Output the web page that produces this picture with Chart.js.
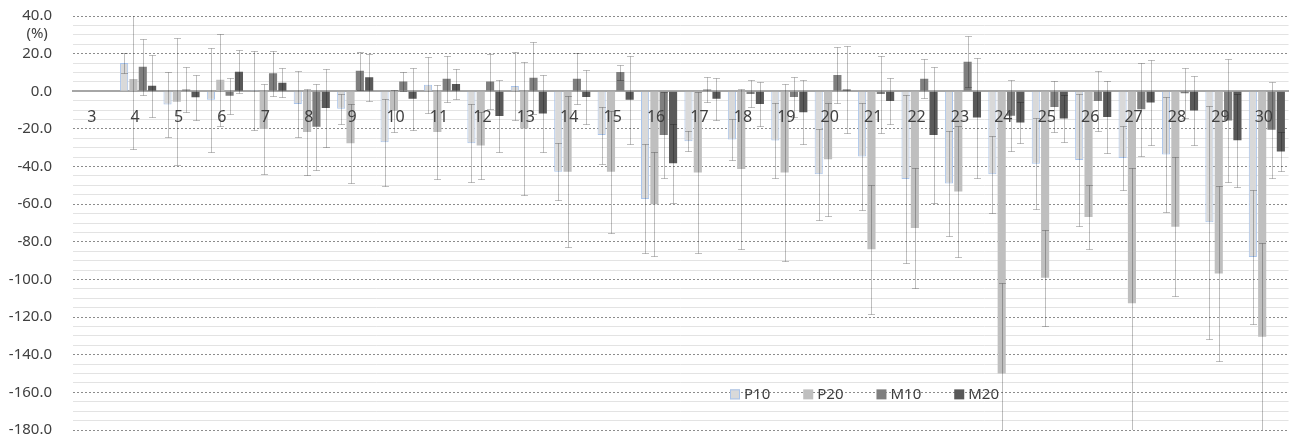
<!DOCTYPE html>
<html>
<head>
<meta charset="utf-8">
<script src="https://cdn.jsdelivr.net/npm/chart.js@4"></script>
<style>
  html, body { margin: 0; padding: 0; background: #fff; }
  #wrap { width: 1293px; height: 439px; position: relative; }
</style>
</head>
<body>
<div id="wrap"><canvas id="chartMain"></canvas></div>
<script>
// kategori sumbu x
const categories = ['3','4','5','6','7','8','9','10','11','12','13','14','15','16','17','18','19','20','21','22','23','24','25','26','27','28','29','30'];

// nilai rata-rata tiap seri (%)
const p10 = [null, 15, -7, -4.5, 0.5, -6.8, -9.3, -27.1, 3.5, -27.6, 2.8, -42.7, -23.3, -57.2, -26.5, -25.6, -26.2, -44.1, -34.7, -46.6, -49, -44.1, -38.5, -36.5, -35.4, -33.6, -69.6, -88.1];
const p20 = [null, 6.5, -5.6, 6.1, -20.1, -21.7, -27.6, -10.5, -21.7, -28.8, -19.8, -42.7, -42.7, -60, -43.2, -41.3, -43.2, -36.1, -84, -72.7, -53.3, -150, -99.1, -66.8, -112.6, -72, -96.8, -130.5];
const m10 = [null, 13, 1, -2.4, 9.6, -18.9, 10.9, 5.2, 6.7, 5.2, 7.2, 6.7, 10.2, -23.3, 1, -1.4, -3.1, 8.6, -1.5, 6.7, 15.7, -13, -8.3, -5.2, -9.5, -1, -15.5, -20.5];
const m20 = [null, 2.9, -3.2, 10.4, 4.5, -8.9, 7.4, -4, 3.8, -13.2, -11.8, -3.1, -4.5, -38.2, -4, -6.8, -11.1, 1, -5.2, -23.3, -14, -16.6, -14.5, -13.7, -5.9, -10.2, -26, -32];

// error bar (+/-)
const p10Err = [null, 5.3, 17.5, 27.6, 21, 17.5, 8, 23, 14.8, 20.7, 18.3, 15, 15.2, 29, 5.5, 11, 19.8, 24.3, 28.6, 44.5, 28, 20.5, 24.2, 35, 17, 30.4, 62, 35.7];
const p20Err = [null, 37, 33.7, 24.5, 23.7, 23, 21, 11, 25, 17.8, 35.5, 40, 32.4, 27.7, 43, 42.3, 47, 30, 34.3, 31.7, 35, 48, 25.5, 17, 72, 37, 46.5, 50];
const m10Err = [null, 15, 11.8, 9.7, 12, 23, 10, 5, 12.3, 14.7, 19.2, 13.5, 4, 22.7, 6.5, 7.2, 10.7, 14.7, 20.5, 10.5, 13.6, 19, 13.6, 15.8, 24.7, 13.2, 32.9, 25.5];
const m20Err = [null, 16.5, 12, 11.3, 7.7, 20.8, 12.5, 16.4, 8, 19, 20.7, 14.5, 23.4, 21, 11.2, 11.9, 17, 23, 12.3, 36, 31.9, 11, 12.7, 19.3, 22.7, 18.4, 24.8, 10.5];

const errors = [p10Err, p20Err, m10Err, m20Err];

const FONT = '"Noto Sans", "DejaVu Sans", sans-serif';
const TEXT = '#404040';
const Y_GAP = 21; // jarak label sumbu y ke area grafik

// Gambar error bar di atas batang
const errorBarPlugin = {
  id: 'errorBars',
  afterDatasetsDraw(chart) {
    const { ctx, chartArea } = chart;
    const yScale = chart.scales.y;
    ctx.save();
    ctx.beginPath();
    ctx.rect(chartArea.left, chartArea.top, chartArea.right - chartArea.left, chartArea.bottom - chartArea.top);
    ctx.clip();
    ctx.strokeStyle = 'rgba(0,0,0,0.25)';
    ctx.lineWidth = 1;
    chart.data.datasets.forEach((ds, i) => {
      const meta = chart.getDatasetMeta(i);
      meta.data.forEach((bar, j) => {
        const v = ds.data[j];
        const e = errors[i][j];
        if (v == null || e == null) return;
        const x = Math.round(bar.x) + 0.5;
        const yTop = Math.round(yScale.getPixelForValue(v + e)) + 0.5;
        const yBot = Math.round(yScale.getPixelForValue(v - e)) + 0.5;
        ctx.beginPath();
        ctx.moveTo(x, yTop);
        ctx.lineTo(x, yBot);
        ctx.moveTo(x - 3.5, yTop);
        ctx.lineTo(x + 3.5, yTop);
        ctx.moveTo(x - 3.5, yBot);
        ctx.lineTo(x + 3.5, yBot);
        ctx.stroke();
      });
    });
    ctx.restore();
  }
};

// Legenda di dalam area grafik + satuan (%)
const innerLegendPlugin = {
  id: 'innerLegend',
  afterDraw(chart) {
    const { ctx, chartArea } = chart;
    const yScale = chart.scales.y;
    ctx.save();
    ctx.font = '15px ' + FONT;
    ctx.textBaseline = 'middle';

    // (%) di bawah label 40.0
    ctx.fillStyle = TEXT;
    ctx.textAlign = 'center';
    const w40 = ctx.measureText('40.0').width;
    ctx.fillText('(%)', yScale.right - Y_GAP - w40 / 2, yScale.getPixelForValue(40) + 18);

    ctx.textAlign = 'left';
    const y = yScale.getPixelForValue(-160) + 2;
    let x = chartArea.left + 657;
    chart.data.datasets.forEach((ds) => {
      ctx.fillStyle = ds.backgroundColor;
      ctx.fillRect(x, y - 5, 10, 10);
      if (ds.borderWidth) {
        ctx.strokeStyle = ds.borderColor;
        ctx.lineWidth = 1;
        ctx.strokeRect(x + 0.5, y - 4.5, 9, 9);
      }
      ctx.fillStyle = TEXT;
      ctx.fillText(ds.label, x + 14, y);
      x += 14 + ctx.measureText(ds.label).width + 33;
    });
    ctx.restore();
  }
};

const ctx = document.getElementById('chartMain').getContext('2d');

const myChart = new Chart(ctx, {
  type: 'bar',
  data: {
    labels: categories,
    datasets: [
      { label: 'P10', data: p10, backgroundColor: '#d9d9d9', borderColor: '#a9c4eb', borderWidth: 1 },
      { label: 'P20', data: p20, backgroundColor: '#bfbfbf', borderWidth: 0 },
      { label: 'M10', data: m10, backgroundColor: '#7f7f7f', borderWidth: 0 },
      { label: 'M20', data: m20, backgroundColor: '#595959', borderWidth: 0 }
    ]
  },
  options: {
    responsive: true,
    maintainAspectRatio: false,
    animation: false,
    categoryPercentage: 0.86,
    barPercentage: 0.87,
    layout: { padding: { top: 16, bottom: 9, left: 0, right: -4 } },
    plugins: {
      legend: { display: false },
      tooltip: { enabled: false }
    },
    scales: {
      x: {
        position: { y: 0 },
        grid: { display: false, drawTicks: false },
        border: { display: true, color: '#a6a6a6', width: 2 },
        ticks: {
          autoSkip: false,
          maxRotation: 0,
          padding: 17,
          labelOffset: -3,
          z: 2,
          color: TEXT,
          font: { family: FONT, size: 16 }
        },
        afterFit: (scale) => { scale.height = 0; }
      },
      y: {
        min: -180,
        max: 40,
        ticks: {
          stepSize: 20,
          padding: 0,
          color: TEXT,
          font: { family: FONT, size: 15 },
          callback: (v) => Number(v).toFixed(1)
        },
        grid: {
          color: '#8c8c8c',
          lineWidth: 1,
          drawTicks: true,
          tickLength: Y_GAP,
          tickColor: 'rgba(0,0,0,0)',
          borderDash: [2, 2]
        },
        border: { display: false, dash: [2, 2] },
        afterFit: (scale) => { scale.width = 73; }
      },
      y2: {
        position: 'left',
        min: -180,
        max: 40,
        ticks: { stepSize: 5, display: false, padding: 0 },
        grid: {
          z: -1,
          drawTicks: false,
          lineWidth: 1,
          color: (c) => (c.tick && c.tick.value % 20 === 0) ? 'rgba(0,0,0,0)' : '#e3e3e3'
        },
        border: { display: false },
        afterFit: (scale) => { scale.width = 0; }
      }
    }
  },
  plugins: [errorBarPlugin, innerLegendPlugin]
});
</script>
</body>
</html>
